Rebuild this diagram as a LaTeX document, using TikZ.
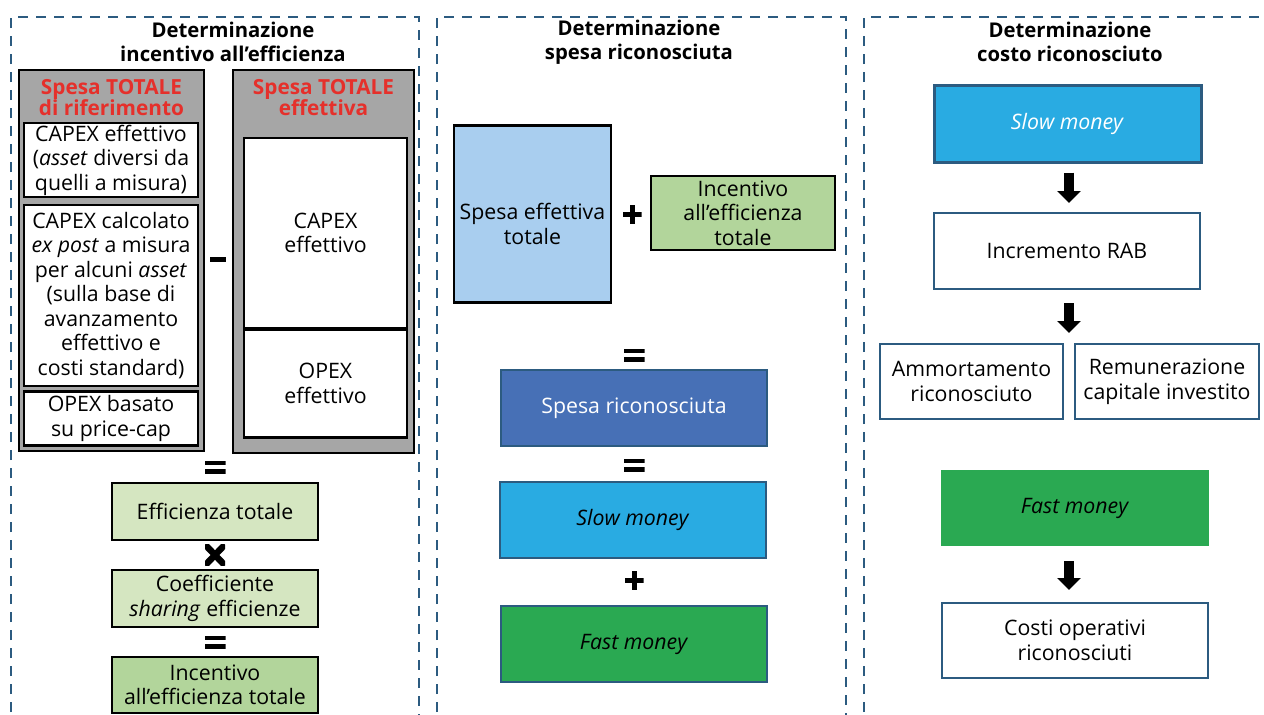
\documentclass[tikz,border=0pt]{standalone}
\usepackage{fontspec}
\setmainfont{Open Sans}
\usetikzlibrary{arrows.meta}
\usepackage{xcolor}
\definecolor{PanelBlue}{HTML}{2C5B80}
\definecolor{TotalGray}{HTML}{A6A6A6}
\definecolor{TitleRed}{HTML}{E5302B}
\definecolor{PaleGreen}{HTML}{D5E6C1}
\definecolor{MidGreen}{HTML}{B2D59B}
\definecolor{SkyBlue}{HTML}{A9CEEF}
\definecolor{RecBlue}{HTML}{4770B6}
\definecolor{SlowCyan}{HTML}{29ABE2}
\definecolor{FastGreen}{HTML}{2AA952}
\newcommand{\bodysize}{\fontsize{21.3}{24.5}\selectfont}

\tikzset{
    panel/.style={PanelBlue, line width=2.5pt, dash pattern=on 10pt off 8pt},
    paneltitle/.style={font=\fontsize{20.3}{24}\selectfont\bfseries, align=center},
    dims/.style 2 args={minimum width=#1, minimum height=#2},
    totalbox/.style={draw, fill=TotalGray, line width=2.5pt, inner sep=0pt},
    redtitle/.style={text=TitleRed, font=\fontsize{20.8}{21.5}\selectfont\bfseries, align=center},
    whitebox/.style={draw, fill=white, line width=2.5pt, inner sep=0pt, align=center, font=\bodysize},
    greenbox/.style={whitebox, fill=#1},
    bluebox/.style={draw=PanelBlue, line width=2pt, fill=#1, inner sep=0pt, align=center, font=\bodysize},
    eqsign/.style={minimum width=21pt, minimum height=13pt, inner sep=0pt,
        path picture={
            \fill (path picture bounding box.north west) rectangle ([yshift=-4.5pt]path picture bounding box.north east);
            \fill (path picture bounding box.south west) rectangle ([yshift=4.5pt]path picture bounding box.south east);
        }},
    plussign/.style={minimum size=19pt, inner sep=0pt,
        path picture={
            \fill ([yshift=2.5pt]path picture bounding box.west) rectangle ([yshift=-2.5pt]path picture bounding box.east);
            \fill ([xshift=-2.5pt]path picture bounding box.north) rectangle ([xshift=2.5pt]path picture bounding box.south);
        }},
    minussign/.style={fill=black, minimum width=16pt, minimum height=5pt, inner sep=0pt},
    timessign/.style={minimum width=20pt, minimum height=21pt, inner sep=0pt,
        path picture={
            \draw[line width=6.5pt] (path picture bounding box.north west) -- (path picture bounding box.south east)
                (path picture bounding box.north east) -- (path picture bounding box.south west);
        }},
    blockarrow/.style={line width=10pt, -{Triangle[width=23pt, length=12pt]}}
}

\begin{document}
\begin{tikzpicture}[x=1pt, y=-1pt]
    \useasboundingbox (0,0) rectangle (1264,715);

    % three dashed panels
    \draw[panel] (11,730) -- (11,17) -- (419,17) -- (419,730);
    \draw[panel] (437,730) -- (437,17) -- (846,17) -- (846,730);
    \draw[panel] (864,730) -- (864,17) -- (1280,17);
    \node[paneltitle] (title1) at (233,42) {Determinazione\\incentivo all’efficienza};
    \node[paneltitle] (title2) at (639,42) {Determinazione\\spesa riconosciuta};
    \node[paneltitle] (title3) at (1070,42) {Determinazione\\costo riconosciuto};

    % incentivo all'efficienza
    \node[totalbox, dims={185pt}{381pt}] (refTot) at (111.5,260.5) {};
    \node[redtitle] (refTitle) at (111.5,97.5) {Spesa TOTALE\\di riferimento};
    \node[whitebox, dims={174pt}{74pt}] (capexRef) at (111,160) {CAPEX effettivo\\(\textit{asset} diversi da\\quelli a misura)};
    \node[whitebox, dims={174pt}{181pt}] (capexStd) at (111,295.5) {CAPEX calcolato\\\textit{ex post} a misura\\per alcuni \textit{asset}\\(sulla base di\\avanzamento\\effettivo e\\costi standard)};
    \node[whitebox, dims={174pt}{54pt}] (opexCap) at (111,418.5) {OPEX basato\\su price-cap};
    \node[totalbox, dims={181pt}{383pt}] (effTot) at (323.5,261.5) {};
    \node[redtitle] (effTitle) at (323.5,97.5) {Spesa TOTALE\\effettiva};
    \node[whitebox, dims={163pt}{190pt}] (capexEff) at (325.5,233) {CAPEX\\effettivo};
    \node[whitebox, dims={163pt}{108pt}] (opexEff) at (325.5,383.5) {OPEX\\effettivo};
    \node[minussign] (minus1) at (218,259) {};
    \node[eqsign] (eq1) at (215,467) {};
    \node[greenbox=PaleGreen, dims={206pt}{57pt}] (effic) at (215,511.5) {Efficienza totale};
    \node[timessign] (times1) at (215,555) {};
    \node[greenbox=PaleGreen, dims={206pt}{57pt}] (coeff) at (215,598.5) {Coefficiente\\\textit{sharing} efficienze};
    \node[eqsign] (eq2) at (215,642) {};
    \node[greenbox=MidGreen, dims={206pt}{56pt}] (incTot) at (215,685) {Incentivo\\all’efficienza totale};

    % spesa riconosciuta
    \node[greenbox=SkyBlue, dims={157pt}{177pt},
        label={[font=\bodysize, align=center, yshift=-10pt]center:Spesa effettiva\\totale}] (spesaEff) at (532.5,214) {};
    \node[plussign] (plus1) at (632,214) {};
    \node[greenbox=MidGreen, dims={184pt}{74pt}] (incEff) at (743,213) {Incentivo\\all’efficienza\\totale};
    \node[eqsign] (eq3) at (634,355) {};
    \node[bluebox=RecBlue, text=white, dims={266pt}{76pt}, line width=2.5pt] (spesaRic) at (634,408) {Spesa riconosciuta};
    \node[eqsign] (eq4) at (634,465) {};
    \node[bluebox=SlowCyan, dims={266pt}{76pt}] (slowA) at (633,520) {\textit{Slow money}};
    \node[plussign] (plus2) at (634,580) {};
    \node[bluebox=FastGreen, dims={266pt}{76pt}] (fastA) at (634,644) {\textit{Fast money}};

    % costo riconosciuto
    \node[bluebox=SlowCyan, text=white, dims={267pt}{77pt}, line width=3pt] (slowB) at (1067.5,123.5) {\textit{Slow money}};
    \node[bluebox=white, dims={266pt}{76pt}] (rab) at (1067,251) {Incremento RAB};
    \node[bluebox=white, dims={183pt}{75pt}] (amm) at (971.5,381.5) {Ammortamento\\riconosciuto};
    \node[bluebox=white, dims={184pt}{75pt}] (remun) at (1167,381.5) {Remunerazione\\capitale investito};
    \node[bluebox=FastGreen, draw=none, dims={268pt}{76pt}] (fastB) at (1075,508) {\textit{Fast money}};
    \node[bluebox=white, dims={266pt}{75pt}] (costi) at (1075,640.5) {Costi operativi\\riconosciuti};
    \coordinate (axis) at (1069,0);
    \draw[blockarrow, shorten <=9pt, shorten >=9pt] (slowB.south -| axis) -- (rab.north -| axis);
    \draw[blockarrow, shorten <=13pt, shorten >=10pt] (rab.south -| axis) -- (amm.north -| axis);
    \draw[blockarrow, shorten <=14pt, shorten >=12pt] (fastB.south -| axis) -- (costi.north -| axis);
\end{tikzpicture}
\end{document}
